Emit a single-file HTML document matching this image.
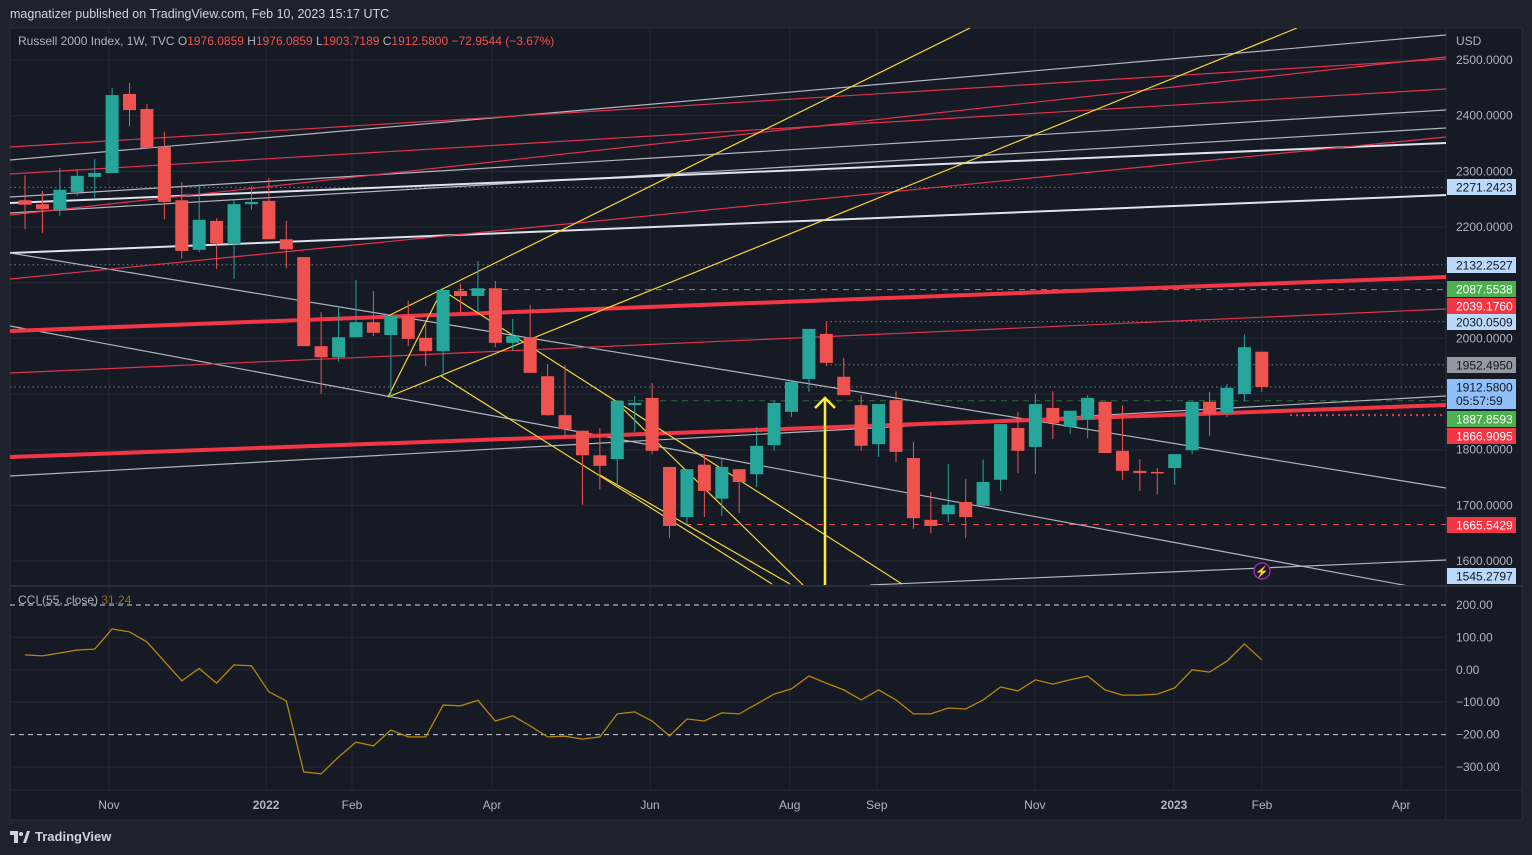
<!DOCTYPE html>
<html><head><meta charset="utf-8">
<style>
html,body{margin:0;padding:0;background:#1e222d;}
body{width:1532px;height:855px;overflow:hidden;position:relative;font-family:"Liberation Sans",sans-serif;}
#hdr{position:absolute;left:10px;top:7px;color:#d1d4dc;font-size:12.5px;}
#foot{position:absolute;left:10px;top:829px;color:#d1d4dc;font-size:13px;font-weight:bold;display:flex;align-items:center;gap:5px;}
svg{position:absolute;left:0;top:0;}
</style></head>
<body>
<div id="hdr">magnatizer published on TradingView.com, Feb 10, 2023 15:17 UTC</div>
<div id="foot"><svg width="20" height="12" style="position:static" viewBox="0 0 20 12"><rect x="0" y="0" width="8" height="4" fill="#d1d4dc"/><rect x="4" y="0" width="4" height="12" fill="#d1d4dc"/><circle cx="11" cy="3" r="2" fill="#d1d4dc"/><polygon points="13,12 17,0 20,0 16,12" fill="#d1d4dc"/></svg>TradingView</div>
<svg id="chart" width="1532" height="855"></svg>
<script>
const opens=[2248,2241,2231,2263,2290,2297,2439,2412,2344,2248,2159,2211,2169,2241,2247,2178,2146,1986,1966,2002,2029,2006,2040,2001,1977,2085,2076,2090,1992,2002,1932,1862,1834,1790,1783,1880,1893,1769,1679,1773,1712,1765,1756,1808,1868,1927,2008,1931,1880,1810,1889,1785,1674,1684,1706,1699,1746,1839,1805,1875,1841,1855,1886,1798,1762,1760,1767,1799,1886,1866,1900,1976];
const highs=[2293,2265,2306,2304,2322,2450,2459,2421,2371,2281,2277,2216,2250,2274,2288,2211,2146,2047,2055,2105,2085,2040,2067,2028,2087,2098,2139,2103,2035,2060,1954,1952,1834,1839,1888,1896,1920,1769,1765,1792,1783,1765,1841,1887,1922,2017,2029,1965,1898,1882,1905,1814,1724,1774,1747,1782,1846,1868,1900,1905,1870,1898,1886,1880,1783,1767,1792,1886,1904,1918,2007,1976];
const lows=[2196,2189,2220,2256,2252,2297,2381,2342,2214,2143,2155,2125,2107,2231,2178,2126,1986,1900,1959,2002,2004,1895,1986,1950,1932,2047,2049,1984,1977,1938,1861,1821,1701,1729,1737,1832,1792,1641,1665,1679,1681,1686,1733,1798,1859,1904,1950,1898,1798,1787,1778,1658,1650,1670,1641,1699,1726,1758,1756,1819,1828,1821,1794,1746,1726,1720,1737,1792,1825,1859,1887,1904];
const closes=[2240,2232,2267,2292,2297,2437,2410,2342,2245,2157,2213,2171,2241,2245,2178,2160,1986,1966,2002,2029,2010,2040,1999,1977,2087,2076,2090,1992,2004,1938,1862,1837,1790,1771,1888,1884,1798,1663,1765,1726,1769,1742,1807,1884,1922,2017,1956,1898,1807,1882,1796,1677,1663,1701,1679,1742,1846,1798,1882,1848,1870,1893,1794,1762,1758,1758,1792,1886,1864,1911,1984,1912.58];
const cci=[46,43,52,61,64,126,117,86,26,-34,4,-41,15,12,-68,-96,-315,-321,-269,-223,-235,-186,-207,-207,-109,-111,-94,-158,-142,-173,-207,-205,-214,-207,-136,-130,-158,-204,-152,-158,-133,-136,-106,-75,-59,-19,-41,-62,-93,-62,-93,-136,-136,-118,-121,-93,-53,-65,-31,-44,-31,-19,-62,-78,-78,-75,-56,0,-7,27,80,31];
const priceTicks=[2500,2400,2300,2200,2000,1800,1700,1600];
const cciTicks=[200,100,0,-100,-200,-300];
const timeLabels=["Nov","2022","Feb","Apr","Jun","Aug","Sep","Nov","2023","Feb","Apr"];
const timeIdx=[4.82,13.84,18.77,26.81,35.88,43.9,48.9,57.97,65.96,71.01,79.0];
const markPrices=[2271.2423,2132.2527,2087.5538,2039.1760,2030.0509,1952.4950,1887.8593,1866.9095,1665.5429,1545.2797];
const markKinds=["b","b","g","r","b","k","g","r","r","b"];
const markLabelY=[187,265,289,306,322,365,419,436,525,576];

const xOf=i=>25+17.42*i;
const yP=p=>60+(2500-p)*0.5567;
const yC=v=>605+(200-v)*0.324;
const NS="http://www.w3.org/2000/svg";
const svg=document.getElementById('chart');
function el(tag,attrs,parent){const e=document.createElementNS(NS,tag);for(const k in attrs)e.setAttribute(k,attrs[k]);(parent||svg).appendChild(e);return e;}

let r=el('rect',{x:10,y:28,width:1512,height:792,fill:'#161a25'});


el('rect',{x:10,y:28,width:1512,height:792,fill:'none',stroke:'#2a2e39'});
el('line',{x1:1446,y1:28,x2:1446,y2:820,stroke:'#2a2e39'});
el('line',{x1:10,y1:586,x2:1522,y2:586,stroke:'#2a2e39','stroke-width':2});
el('line',{x1:10,y1:790,x2:1522,y2:790,stroke:'#2a2e39'});
const defs=el('defs',{});
const cp=el('clipPath',{id:'cm'},defs);el('rect',{x:10,y:28,width:1436,height:557},cp);
const cp2=el('clipPath',{id:'cc'},defs);el('rect',{x:10,y:588,width:1436,height:201},cp2);

timeIdx.forEach((t,k)=>{
  const x=xOf(t);
  const g=el('line',{x1:x,y1:28,x2:x,y2:790,stroke:'#242833'});
  
  
  const tx=el('text',{x:x,y:809,fill:'#b2b5be','font-size':12,'text-anchor':'middle','font-weight':(timeLabels[k].length==4?'bold':'normal')});
  tx.textContent=timeLabels[k];
  
  
});
[2500,2400,2300,2200,2100,2000,1900,1800,1700,1600].forEach(p=>{
  el('line',{x1:10,y1:yP(p),x2:1446,y2:yP(p),stroke:'#242833'});
});
cciTicks.forEach(v=>{ if(v!==200&&v!==-200) el('line',{x1:10,y1:yC(v),x2:1446,y2:yC(v),stroke:'#242833'}); });

const main=el('g',{'clip-path':'url(#cm)'});



function hl(y,x1,col,dash,name,w){const l=el('line',{x1:x1,y1:y,x2:1446,y2:y,stroke:col,'stroke-dasharray':dash,'stroke-width':w||1},main);}
hl(yP(2271.2423),10,'#787b86','1.5 3','level-2271');
hl(yP(2132.2527),10,'#787b86','1.5 3','level-2132');
hl(yP(2030.0509),826,'#787b86','1.5 3','level-2030');
hl(yP(1952.4950),826,'#787b86','1.5 3','level-1952');
hl(yP(1912.58),10,'#787b86','1.5 3','last-price-line');
hl(yP(2087.5538),458,'#4caf50','6 5','level-2087');
hl(yP(1887.8593),616,'#2e6b3a','6 5','level-1887');
hl(yP(1665.5429),685,'#e0484f','6 6','level-1665');
hl(yP(1862),1290,'#f23645','2 4','level-1866',2);

function tl(x1,y1,x2,y2,col,w,name){const l=el('line',{x1,y1,x2,y2,stroke:col,'stroke-width':w},main);}
tl(10,160,1446,35,'#b2b5be',1.2,'trendline-grey');
tl(10,197,1446,110,'#b2b5be',1.2,'trendline-grey');
tl(10,213,1446,128,'#b2b5be',1.2,'trendline-grey');
tl(10,203,1446,143,'#e0e3eb',2,'trendline-white');
tl(10,253,1446,195,'#e0e3eb',2,'trendline-white');
tl(10,253,1446,488,'#b2b5be',1.2,'trendline-grey-down');
tl(10,326,1446,593,'#b2b5be',1.2,'trendline-grey-down');
tl(10,476,1446,396,'#b2b5be',1.2,'trendline-grey-up');
tl(870,585,1446,560,'#b2b5be',1.2,'trendline-grey-up');
tl(10,147,1446,59,'#e0334a',1.2,'trendline-red');
tl(10,174,1446,89,'#e0334a',1.2,'trendline-red');
tl(10,215,1446,57,'#e0334a',1.2,'trendline-red');
tl(10,279,1446,137,'#e0334a',1.2,'trendline-red');
tl(10,373,1446,309,'#e0334a',1.2,'trendline-red');
tl(10,331,1446,277,'#f23645',4,'trendline-red-thick');
tl(10,457,1446,405,'#f23645',4,'trendline-red-thick');
tl(388,316,970,28,'#f5d63a',1.2,'pitchfork-line');
tl(388,397,1297,28,'#f5d63a',1.2,'pitchfork-line');
tl(388,397,442,290,'#f5d63a',1.2,'pitchfork-line');
tl(442,290,902,584,'#f5d63a',1.2,'pitchfork-line');
tl(441,376,772,584,'#f5d63a',1.2,'pitchfork-line');
tl(600,475,790,584,'#f5d63a',1.2,'pitchfork-line');
tl(614,400,803,585,'#f5d63a',1.2,'pitchfork-line');
tl(825,398,825,585,'#ffeb3b',2.5,'arrow-up');
const ah=el('polyline',{points:'815,408 825,398 835,408',fill:'none',stroke:'#ffeb3b','stroke-width':2.5},main);



opens.forEach((o,i)=>{
  const c=closes[i],x=xOf(i),up=c>=o,col=up?'#26a69a':'#ef5350';
  const g=el('g',{},main);
  
  
  el('line',{x1:x,y1:yP(highs[i]),x2:x,y2:yP(lows[i]),stroke:col,'stroke-width':1},g);
  const t=yP(Math.max(o,c)),b=yP(Math.min(o,c));
  el('rect',{x:x-6.5,y:t,width:13,height:Math.max(1.5,b-t),fill:col},g);
});

const li=el('g',{},svg);


el('circle',{cx:1262,cy:571,r:8,fill:'#161a25',stroke:'#9c27b0','stroke-width':1.5},li);
el('text',{x:1262,y:575.5,fill:'#ce93d8','font-size':11,'text-anchor':'middle'},li).textContent='⚡';

el('line',{x1:10,y1:yC(200),x2:1446,y2:yC(200),stroke:'#d1d4dc','stroke-dasharray':'5 4'});
el('line',{x1:10,y1:yC(-200),x2:1446,y2:yC(-200),stroke:'#d1d4dc','stroke-dasharray':'5 4'});
const cg=el('g',{'clip-path':'url(#cc)'});
const pl=el('polyline',{points:cci.map((v,i)=>xOf(i).toFixed(1)+','+yC(v).toFixed(1)).join(' '),fill:'none',stroke:'#b8860b','stroke-width':1.3},cg);


const cl=el('text',{x:18,y:604,'font-size':12,fill:'#b2b5be'});


cl.innerHTML='CCI (55, close) <tspan fill="#8f6c1e">31.24</tspan>';

const lg=el('text',{x:18,y:45,'font-size':12,fill:'#b2b5be'});


lg.setAttribute('xml:space','preserve');
lg.innerHTML='Russell 2000 Index, 1W, TVC  O<tspan fill="#ef5350">1976.0859</tspan>  H<tspan fill="#ef5350">1976.0859</tspan>  L<tspan fill="#ef5350">1903.7189</tspan>  C<tspan fill="#ef5350">1912.5800</tspan>  <tspan fill="#ef5350">−72.9544 (−3.67%)</tspan>';

const usd=el('text',{x:1456,y:45,'font-size':12,fill:'#b2b5be'});usd.textContent='USD';


priceTicks.forEach(p=>{
  const t=el('text',{x:1456,y:yP(p)+4,'font-size':12,fill:'#b2b5be'});
  t.textContent=p.toFixed(4);
  
  
});
cciTicks.forEach(v=>{
  const t=el('text',{x:1456,y:yC(v)+4,'font-size':12,fill:'#b2b5be'});
  t.textContent=(v<0?'−':'')+Math.abs(v).toFixed(2);
  
  
});
const kinds={b:['#bbd9fb','#131722'],g:['#4caf50','#ffffff'],r:['#f23645','#ffffff'],k:['#9598a1','#131722']};
markPrices.forEach((p,k)=>{
  const y=markLabelY[k],[bg,fg]=kinds[markKinds[k]];
  const g=el('g',{});
  
  
  el('rect',{x:1447,y:y-8,width:69,height:16,fill:bg},g);
  const t=el('text',{x:1456,y:y+4.5,'font-size':12,fill:fg},g);t.textContent=p.toFixed(4);
});
const lp=el('g',{});


const ly=yP(1912.58);
el('rect',{x:1447,y:ly-8,width:69,height:30,fill:'#90bff9'},lp);
el('text',{x:1456,y:ly+4.5,'font-size':12,fill:'#131722'},lp).textContent='1912.5800';
el('text',{x:1456,y:ly+18,'font-size':12,fill:'#131722'},lp).textContent='05:57:59';
</script>
</body></html>
